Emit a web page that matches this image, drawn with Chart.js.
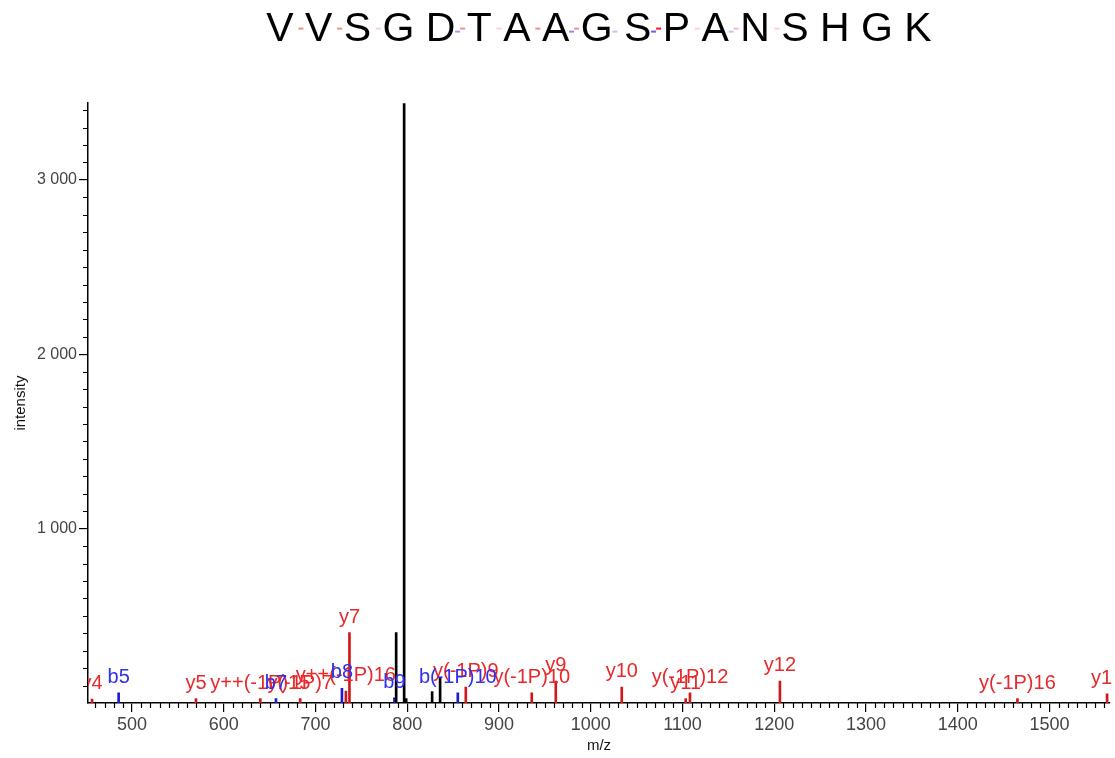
<!DOCTYPE html>
<html><head><meta charset="utf-8">
<script src="https://cdn.jsdelivr.net/npm/chart.js@4.4.1/dist/chart.umd.min.js"></script>
<style>html,body{margin:0;padding:0;background:#fff}#wrap{width:1115px;height:758px}</style>
</head><body><div id="wrap"><canvas id="c" width="1115" height="758"></canvas></div>
<script>
const peptide = 'V V S G D T A A G S P A N S H G K';
// fragment coverage marks between residues (opacity of y-ion / b-ion dash per gap)
const gapY = [0.5, 0.5, 0.2, 0, 0.5, 0.2, 0.5, 0.5, 0, 1, 0.2, 0.3, 0.2, 0, 0, 0];
const gapB = [0, 0, 0, 0, 0.5, 0, 0, 0.6, 0.3, 0.8, 0, 0.3, 0, 0, 0, 0];

// y-type fragment ions (red)
const yMz     = [456.4, 569.7, 639.8, 683.3, 733.1, 737.0, 863.8, 935.7, 961.9, 1033.8, 1103.5, 1108.2, 1206.2, 1465.1, 1562.8];
const yInt    = [23, 25, 25, 25, 69, 404, 92, 59, 126, 92, 25, 59, 126, 25, 53];
const yLabels = ['y4', 'y5', 'y++(-1P)15', 'y(-1P)7', 'y++(-1P)16', 'y7', 'y(-1P)9', 'y(-1P)10', 'y9', 'y10', 'y11', 'y(-1P)12', 'y12', 'y(-1P)16', 'y16'];

// b-type fragment ions (blue)
const bMz     = [485.4, 656.9, 728.8, 786.0, 855.1];
const bInt    = [59, 25, 84, 30, 59];
const bLabels = ['b5', 'b7', 'b8', 'b9', 'b(-1P)10'];

// unassigned peaks (black)
const oMz  = [787.9, 796.6, 798.8, 827.1, 835.8];
const oInt = [404, 3440, 25, 65, 145];

// axis ticks
const xTickValues = [500, 600, 700, 800, 900, 1000, 1100, 1200, 1300, 1400, 1500];
const yTickValues = [1000, 2000, 3000];

const xMin = 452, xMax = 1566, yMax = 3440;

const FONT = '"Liberation Sans", Arial, sans-serif';
const TITLE_SIZE = 41;
const pts = (xs, ys) => xs.map((x, i) => ({x: x, y: ys[i]}));
const fmt = v => String(v).replace(/\B(?=(\d{3})+(?!\d))/g, ' ');

const peakLabelPlugin = {
  id: 'peakLabels',
  afterDatasetsDraw(chart) {
    const ctx = chart.ctx, a = chart.chartArea;
    ctx.save();
    ctx.beginPath();
    ctx.rect(a.left, a.top, a.right - a.left + 3, a.bottom - a.top);
    ctx.clip();
    chart.data.datasets.forEach((ds, di) => {
      if (!ds.peakLabels) return;
      const meta = chart.getDatasetMeta(di);
      meta.data.forEach((el, i) => {
        const t = ds.peakLabels[i];
        if (!t) return;
        ctx.fillStyle = ds.labelColor;
        ctx.font = '20px ' + FONT;
        ctx.textAlign = 'center';
        ctx.textBaseline = 'alphabetic';
        ctx.fillText(t, el.x, el.y - 10);
      });
    });
    ctx.restore();
  }
};

const minorTickPlugin = {
  id: 'minorTicks',
  afterDraw(chart) {
    const ctx = chart.ctx, xs = chart.scales.x, ys = chart.scales.y;
    ctx.save();
    ctx.strokeStyle = '#000';
    ctx.lineWidth = 1.2;
    ctx.beginPath();
    for (let v = Math.ceil(xs.min / 10) * 10; v <= xs.max; v += 10) {
      if (v % 100 === 0) continue;
      const p = Math.round(xs.getPixelForValue(v)) + 0.5;
      ctx.moveTo(p, ys.bottom); ctx.lineTo(p, ys.bottom + 5);
    }
    for (let v = 100; v <= ys.max; v += 100) {
      if (v % 1000 === 0) continue;
      const p = Math.round(ys.getPixelForValue(v)) + 0.5;
      ctx.moveTo(xs.left - 5, p); ctx.lineTo(xs.left, p);
    }
    ctx.stroke();
    ctx.restore();
  }
};

const titleMarksPlugin = {
  id: 'titleMarks',
  afterDraw(chart) {
    const tb = chart.titleBlock;
    if (!tb) return;
    const ctx = chart.ctx;
    ctx.save();
    ctx.font = TITLE_SIZE + 'px ' + FONT;
    const W = ctx.measureText(peptide).width;
    const cx = (tb.left + tb.right) / 2;
    const cy = tb.top + 5 + TITLE_SIZE * 1.2 / 2;
    const x0 = cx - W / 2;
    const sp = ctx.measureText(' ').width;
    for (let g = 0; g < gapY.length; g++) {
      const gx = x0 + ctx.measureText(peptide.slice(0, 2 * g + 1)).width + sp / 2;
      if (gapB[g] > 0) {
        ctx.fillStyle = 'rgba(60,60,230,' + gapB[g] + ')';
        ctx.fillRect(gx - 6, cy + 1, 5, 2);
      }
      if (gapY[g] > 0) {
        ctx.fillStyle = 'rgba(235,30,30,' + gapY[g] + ')';
        ctx.fillRect(gx - 1, cy - 2, 5, 2);
      }
    }
    ctx.restore();
  }
};

const barStyle = {barThickness: 2, grouped: false, borderWidth: 0};

new Chart(document.getElementById('c'), {
  type: 'bar',
  data: {
    datasets: [
      Object.assign({data: pts(oMz, oInt), backgroundColor: '#000000'}, barStyle),
      Object.assign({data: pts(yMz, yInt), backgroundColor: '#d01818', peakLabels: yLabels, labelColor: '#e8282a'}, barStyle),
      Object.assign({data: pts(bMz, bInt), backgroundColor: '#1a1ad0', peakLabels: bLabels, labelColor: '#2f2ff0'}, barStyle)
    ]
  },
  options: {
    responsive: false,
    animation: false,
    devicePixelRatio: 1,
    layout: {padding: {left: 0, right: 5, top: 0, bottom: 0}},
    plugins: {
      legend: {display: false},
      tooltip: {enabled: false},
      title: {
        display: true,
        fullSize: false,
        text: peptide,
        color: '#000',
        font: {family: FONT, size: TITLE_SIZE, weight: 'normal', lineHeight: 1.2},
        padding: {top: 5, bottom: 49}
      }
    },
    scales: {
      x: {
        type: 'linear',
        min: xMin, max: xMax,
        offset: false,
        afterFit(s) { s.height = 55; },
        afterBuildTicks(s) { s.ticks = xTickValues.map(v => ({value: v})); },
        grid: {display: true, offset: false, drawOnChartArea: false, drawTicks: true, tickLength: 9, color: '#000', lineWidth: 1.2},
        border: {display: true, color: '#000', width: 1.5},
        ticks: {maxRotation: 0, autoSkip: false, padding: 2, color: '#444',
          font: {family: FONT, size: 18},
          callback: v => String(v)},
        title: {display: true, text: 'm/z', color: '#111', font: {family: FONT, size: 15}, padding: {top: 0, bottom: 3}}
      },
      y: {
        min: 0, max: yMax,
        afterFit(s) { s.width = 88; },
        afterBuildTicks(s) { s.ticks = yTickValues.map(v => ({value: v})); },
        grid: {display: true, offset: false, drawOnChartArea: false, drawTicks: true, tickLength: 9, color: '#000', lineWidth: 1.2},
        border: {display: true, color: '#000', width: 1.5},
        ticks: {padding: 2, color: '#444', autoSkip: false,
          font: {family: FONT, size: 16},
          callback: v => fmt(v)},
        title: {display: true, text: 'intensity', color: '#111', font: {family: FONT, size: 15}, padding: {top: 12, bottom: 0}}
      }
    }
  },
  plugins: [peakLabelPlugin, minorTickPlugin, titleMarksPlugin]
});
</script>
</body></html>
